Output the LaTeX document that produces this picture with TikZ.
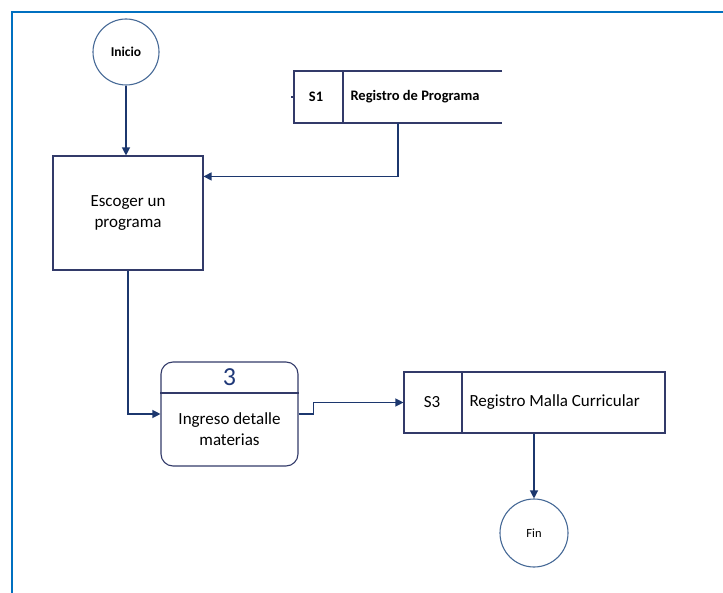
\documentclass[tikz,border=0pt]{standalone}
\usepackage{fontspec}
\setmainfont{Carlito}
\usetikzlibrary{arrows.meta,calc}
\definecolor{framecol}{RGB}{0,112,192}
\definecolor{flowcol}{RGB}{28,55,110}
\definecolor{boxcol}{RGB}{50,58,105}
\definecolor{circcol}{RGB}{70,105,150}
\definecolor{numcol}{RGB}{31,56,120}
\tikzset{
  flow/.style={draw=flowcol, line width=1.2pt, -{Triangle[length=8pt,width=8pt]}},
  terminal/.style={circle, draw=circcol, line width=1.1pt, inner sep=0pt},
  procbox/.style={rectangle, draw=boxcol, line width=1.1pt, align=center, inner sep=0pt},
  storeline/.style={draw=boxcol, line width=1.1pt},
  lbl/.style={font=\fontsize{17}{21}\selectfont, align=center}
}
\begin{document}
\begin{tikzpicture}[x=1pt,y=-1pt]
\useasboundingbox (0,0) rectangle (723,593);
% outer frame (top and left edges)
\draw[framecol, line width=2pt] (12,593) -- (12,12) -- (723,12);

% start / end terminals
\node[terminal, minimum size=66pt, font=\fontsize{13.5}{15}\selectfont\bfseries] (inicio) at (126,52) {Inicio};
\node[terminal, minimum size=68pt, font=\fontsize{12.5}{14}\selectfont] (fin) at (534,533) {Fin};

% process: choose a programme
\node[procbox, minimum width=150pt, minimum height=114pt, lbl] (escoger) at (128,213) {Escoger un\\programa};

% data store S1 (open on the right)
\draw[storeline] (502,71) -- (294,71) -- (294,123) -- (502,123);
\draw[storeline] (343,71) -- (343,123);
\draw[storeline] (291,97) -- (294,97);
\node[font=\fontsize{14.5}{17}\selectfont\bfseries] (s1id) at (316,97) {S1};
\node[anchor=west, font=\fontsize{14.5}{17}\selectfont\bfseries] (s1txt) at (347,97) {Registro de Programa};
\coordinate (s1out) at (398,123);

% process 3 with header
\node[procbox, rounded corners=12pt, minimum width=137pt, minimum height=104pt] (proceso) at (229.5,414) {};
\draw[storeline] (proceso.west |- 0,393) -- (proceso.east |- 0,393);
\node[font=\fontsize{26}{28}\selectfont, text=numcol] (num) at (229.5,377) {3};
\node[lbl] (proctxt) at (229.5,429) {Ingreso detalle\\materias};

% data store S3
\node[procbox, minimum width=261pt, minimum height=61pt] (s3) at (534.5,402.5) {};
\draw[storeline] (462,372) -- (462,433);
\node[lbl] (s3id) at (432,402.5) {S3};
\node[anchor=west, lbl] (s3txt) at (466,402.5) {Registro Malla Curricular};

% connectors
\draw[flow] (inicio.south) -- (inicio.south |- escoger.north);
\draw[flow] (s1out) |- ($(escoger.north east)+(0,21)$);
\draw[flow] (escoger.south) |- (proceso.west);
\draw[flow] (proceso.east) -- ++(15,0) |- (s3.west);
\draw[flow] (fin.north |- s3.south) -- (fin.north);
\end{tikzpicture}
\end{document}
